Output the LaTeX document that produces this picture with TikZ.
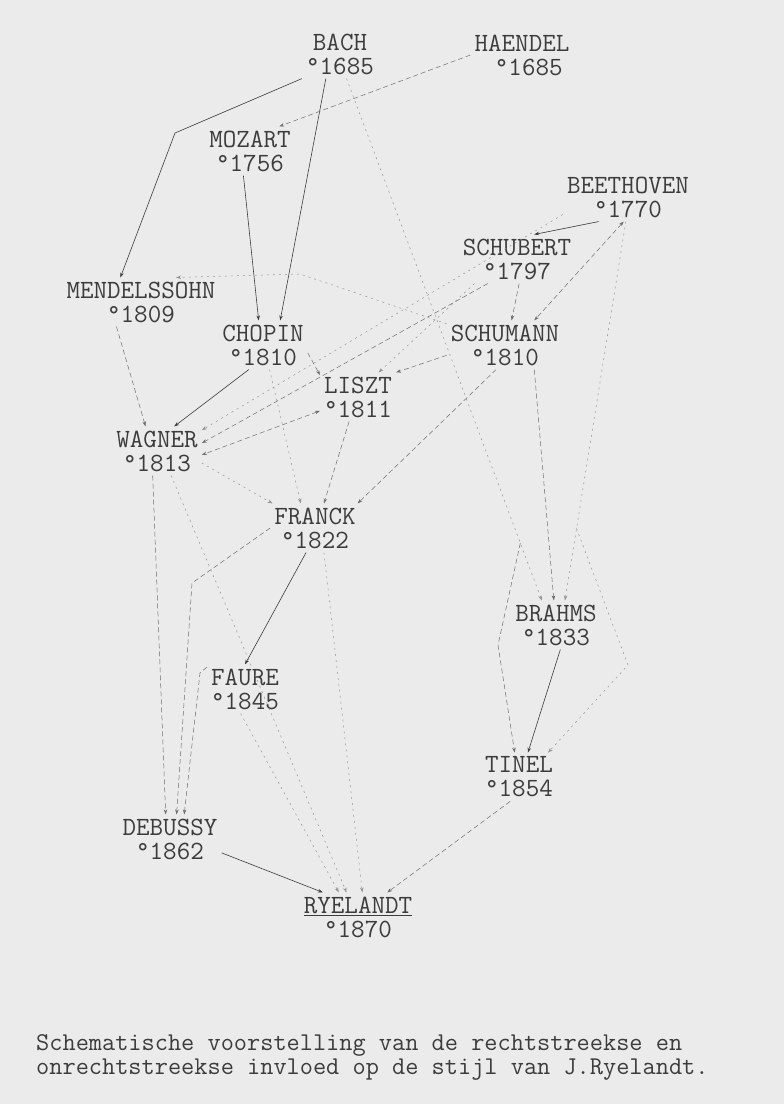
\documentclass[tikz,border=0pt]{standalone}
\usepackage{fontspec}
\usepackage{xcolor}
\usetikzlibrary{arrows.meta, calc}
\definecolor{paper}{RGB}{235,235,235}
\definecolor{ink}{RGB}{60,60,60}

\begin{document}
\begin{tikzpicture}[x=1pt, y=-1pt,
    >={Stealth[length=5pt,width=3.5pt]},
    composer/.style={align=center, inner sep=4pt, text=ink, font=\ttfamily\fontsize{26.3}{24}\selectfont},
    direct/.style={->, draw=ink, line width=0.6pt},
    indirect/.style={->, draw=ink!75, line width=0.5pt, dash pattern=on 5pt off 3pt},
    faint/.style={->, draw=ink!55, line width=0.5pt, dash pattern=on 2pt off 4pt}
]

% Paper
\fill[paper] (0,0) rectangle (784,1104);
\useasboundingbox (0,0) rectangle (784,1104);

% Composers
\node[composer] (bach) at (340,54) {BACH\\°1685};
\node[composer] (haendel) at (522,55) {HAENDEL\\\ °1685};
\node[composer] (mozart) at (250,151) {MOZART\\°1756};
\node[composer] (beethoven) at (628,197) {BEETHOVEN\\°1770};
\node[composer] (schubert) at (517,259) {SCHUBERT\\°1797};
\node[composer] (mendelssohn) at (141,302) {MENDELSSOHN\\°1809};
\node[composer] (chopin) at (263,345) {CHOPIN\\°1810};
\node[composer] (schumann) at (505,345) {SCHUMANN\\°1810};
\node[composer] (liszt) at (358,397) {LISZT\\°1811};
\node[composer] (wagner) at (157,451) {WAGNER\\°1813};
\node[composer] (franck) at (315,528) {FRANCK\\°1822};
\node[composer] (brahms) at (556,625) {BRAHMS\\°1833};
\node[composer] (faure) at (245,689) {FAURE\\°1845};
\node[composer] (tinel) at (519,777) {TINEL\\°1854};
\node[composer] (debussy) at (170,839) {DEBUSSY\\°1862};
\node[composer] (ryelandt) at (358,917) {\underline{RYELANDT}\\°1870};

% Caption
\node[composer, align=left, anchor=north west, font=\ttfamily\fontsize{25.6}{24}\selectfont] (caption) at (32,1030)
    {Schematische voorstelling van de rechtstreekse en\\onrechtstreekse invloed op de stijl van J.Ryelandt.};

% Bends
\coordinate (bachbend) at (175,133);
\coordinate (leftbend1) at ($(bach.-75)!0.89!(brahms.120)$);
\coordinate (leftbend2) at (498,645);
\coordinate (rightbend1) at ($(beethoven.-95)!0.81!(brahms.70)$);
\coordinate (rightbend2) at (628,665);
\coordinate (mendbend) at (300,274);
\coordinate (franckbend) at (192,583);
\coordinate (faurebend) at (200,673);

% Bach, Haendel, Mozart
\draw[direct] (bach.south west) -- (bachbend) -- (mendelssohn.130);
\draw[direct] (bach.-120) -- (chopin.55);
\draw[faint] (bach.-75) -- (brahms.120);
\draw[indirect] (leftbend1) -- (leftbend2) -- (tinel.100);
\draw[indirect] (haendel.west) -- (mozart.40);
\draw[direct] (mozart.-105) -- (chopin.100);

% Beethoven
\draw[direct] (beethoven.-140) -- (schubert.55);
\draw[faint] (beethoven.195) -- (wagner.25);
\draw[indirect, <->] (beethoven.-100) -- (schumann.40);
\draw[faint] (beethoven.-95) -- (brahms.70);
\draw[faint] (rightbend1) -- (rightbend2) -- (tinel.40);

% Schubert
\draw[indirect] (schubert.-85) -- (schumann.75);
\draw[indirect] (schubert.-140) -- (wagner.10);
\draw[faint] (schubert.-150) -- (liszt.50);

% Schumann
\draw[indirect] (schumann.-40) -- (brahms.95);
\draw[indirect] (schumann.190) -- (liszt.north east);
\draw[indirect] (schumann.-110) -- (franck.30);
\draw[faint] (schumann.160) -- (mendbend) -- (mendelssohn.35);

% Chopin, Liszt, Mendelssohn
\draw[indirect] (chopin.-10) -- (liszt.150);
\draw[direct] (chopin.-120) -- (wagner.55);
\draw[faint] (chopin.-75) -- (franck.120);
\draw[indirect] (liszt.-110) -- (franck.70);
\draw[indirect, <->] (liszt.200) -- (wagner.-5);
\draw[indirect] (mendelssohn.-135) -- (wagner.115);

% Wagner, Franck, Faure
\draw[faint] (wagner.-15) -- (franck.150);
\draw[indirect] (wagner.-100) -- (debussy.100);
\draw[faint] (wagner.-60) -- (ryelandt.115);
\draw[direct] (franck.-110) -- (faure.north);
\draw[indirect] (franck.west) -- (franckbend) -- (debussy.75);
\draw[faint] (franck.-70) -- (ryelandt.80);
\draw[indirect] (faure.150) -- (faurebend) -- (debussy.60);
\draw[faint] (faure.-100) -- (ryelandt.128);

% Brahms, Tinel, Debussy
\draw[direct] (brahms.-80) -- (tinel.70);
\draw[indirect] (tinel.-110) -- (ryelandt.40);
\draw[direct] (debussy.-15) -- (ryelandt.145);

\end{tikzpicture}
\end{document}
